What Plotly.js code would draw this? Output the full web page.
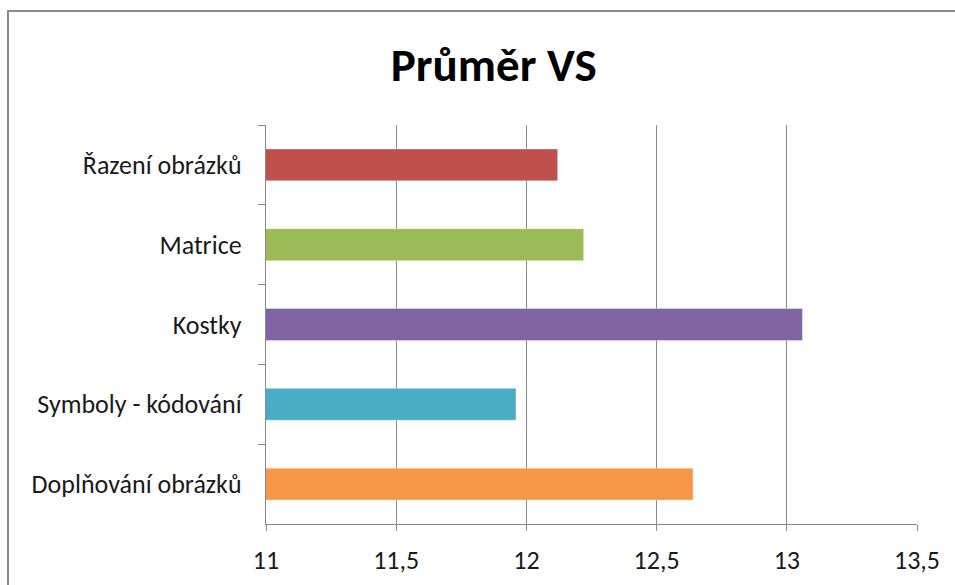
<!DOCTYPE html>
<html>
<head>
<meta charset="utf-8">
<script src="https://cdn.plot.ly/plotly-3.0.1.min.js"></script>
<style>
  html, body { margin: 0; padding: 0; background: #ffffff; overflow: hidden; }
  #wrap { position: relative; width: 955px; height: 585px; }
  #frame { position: absolute; left: 7px; top: 10px; width: 1000px; height: 700px;
           border-left: 2px solid #8a8a8a; border-top: 2px solid #8a8a8a; pointer-events: none; }
  #chart { position: absolute; left: 0; top: 0; width: 955px; height: 585px; }
</style>
</head>
<body>
<div id="wrap">
  <div id="chart"></div>
  <div id="frame"></div>
</div>
<script>
// Průměr VS – average score per subtest
const categories = ["Řazení obrázků", "Matrice", "Kostky", "Symboly - kódování", "Doplňování obrázků"];
const values = [12.12, 12.22, 13.06, 11.96, 12.64];
const barColors = ["#C0504D", "#9BBB59", "#8064A2", "#4BACC6", "#F79646"];
const xTicks = [11, 11.5, 12, 12.5, 13, 13.5];

const FONT = "Carlito, Calibri, Lato, 'Open Sans', sans-serif";

const trace = {
  type: "bar",
  orientation: "h",
  y: categories,
  x: values,
  marker: { color: barColors, line: { color: "rgba(255,255,255,0.35)", width: 1 } },
  hoverinfo: "y+x"
};

const layout = {
  width: 955,
  height: 585,
  margin: { l: 266, r: 38, t: 125, b: 61 },
  paper_bgcolor: "#ffffff",
  plot_bgcolor: "#ffffff",
  separators: ", ",
  bargap: 0.6,
  showlegend: false,
  title: {
    text: "<b>Průměr VS</b>",
    font: { family: FONT, size: 47, color: "#000000" },
    x: 0.517, xanchor: "center",
    y: 0.889, yanchor: "middle"
  },
  xaxis: {
    range: [11, 13.5],
    tickvals: xTicks,
    ticktext: xTicks.map(v => String(v).replace(".", ",")),
    showgrid: true,
    gridcolor: "#8a8a8a",
    gridwidth: 1.2,
    zeroline: false,
    showline: true,
    linecolor: "#8a8a8a",
    linewidth: 1.2,
    ticks: "outside",
    ticklen: 6,
    tickcolor: "#8a8a8a",
    ticklabelstandoff: 7,
    tickfont: { family: FONT, size: 26, color: "#1a1a1a" },
    fixedrange: true
  },
  yaxis: {
    type: "category",
    autorange: "reversed",
    showgrid: false,
    zeroline: false,
    showline: true,
    linecolor: "#8a8a8a",
    linewidth: 1.2,
    ticks: "outside",
    tickson: "boundaries",
    ticklen: 7,
    tickcolor: "#8a8a8a",
    ticklabelstandoff: 18,
    tickfont: { family: FONT, size: 26, color: "#1a1a1a" },
    fixedrange: true
  }
};

Plotly.newPlot("chart", [trace], layout, { displayModeBar: false, staticPlot: true });
</script>
</body>
</html>
